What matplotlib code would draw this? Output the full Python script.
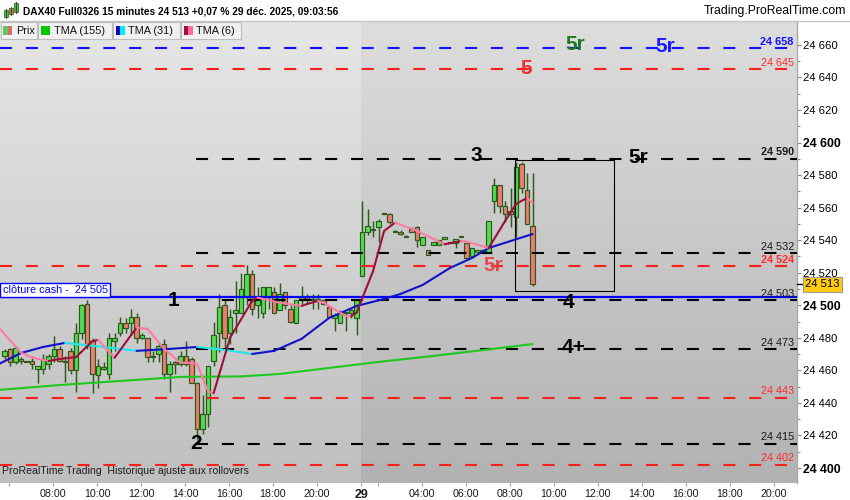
import numpy as np
import pandas as pd
import matplotlib
matplotlib.use("Agg")
import matplotlib.pyplot as plt
import matplotlib.colors as mcolors
import matplotlib.transforms as mtransforms
from matplotlib.patches import Rectangle
from matplotlib.collections import LineCollection

plt.rcParams['font.family'] = ['Liberation Sans', 'DejaVu Sans']

# ==========================================
# 1. DATA
# ==========================================
# 15 minute bars: previous session 05:45 -> 21:45, then 29 déc. 01:15 -> 09:00
day1_times = pd.date_range("2025-12-23 05:45", "2025-12-23 21:45", freq="15min")
day2_times = pd.date_range("2025-12-29 01:15", "2025-12-29 09:00", freq="15min")

d1_open = [24469, 24473, 24465, 24467, 24465, 24466, 24461, 24461, 24464, 24469,
           24473, 24466, 24472, 24460, 24483, 24501, 24478, 24457, 24461, 24458,
           24478, 24483, 24489, 24489, 24493, 24480, 24480, 24468, 24470, 24476,
           24458, 24465, 24464, 24469, 24467, 24452, 24424, 24433, 24466, 24483,
           24500, 24483, 24495, 24495, 24505, 24519, 24500, 24495, 24505, 24508,
           24497, 24508, 24498, 24489, 24503, 24505, 24503, 24503, 24503, 24499,
           24492, 24489, 24495, 24495, 24492]
d1_high = [24473, 24474, 24475, 24468, 24466, 24469, 24463, 24470, 24470, 24481,
           24475, 24469, 24474, 24489, 24501, 24503, 24480, 24467, 24465, 24483,
           24483, 24493, 24492, 24498, 24495, 24483, 24480, 24472, 24476, 24479,
           24466, 24466, 24472, 24478, 24468, 24453, 24445, 24463, 24490, 24507,
           24503, 24498, 24515, 24520, 24525, 24522, 24511, 24511, 24511, 24511,
           24514, 24508, 24500, 24503, 24512, 24507, 24507, 24507, 24504, 24499,
           24495, 24497, 24496, 24498, 24503]
d1_low = [24467, 24463, 24464, 24464, 24465, 24461, 24452, 24458, 24461, 24465,
          24465, 24453, 24458, 24447, 24479, 24473, 24446, 24449, 24460, 24455,
          24472, 24481, 24483, 24482, 24477, 24479, 24465, 24465, 24465, 24455,
          24447, 24458, 24463, 24463, 24452, 24418, 24421, 24425, 24463, 24471,
          24473, 24476, 24483, 24495, 24500, 24494, 24492, 24492, 24498, 24495,
          24497, 24498, 24489, 24489, 24501, 24501, 24498, 24498, 24500, 24493,
          24484, 24489, 24484, 24492, 24482]
d1_close = [24472, 24465, 24474, 24466, 24466, 24464, 24463, 24467, 24469, 24473,
            24466, 24465, 24460, 24483, 24500, 24475, 24458, 24463, 24462, 24480,
            24480, 24489, 24486, 24493, 24480, 24482, 24468, 24469, 24475, 24458,
            24464, 24464, 24469, 24464, 24452, 24424, 24433, 24463, 24482, 24499,
            24480, 24493, 24497, 24510, 24519, 24498, 24504, 24511, 24511, 24495,
            24507, 24500, 24490, 24503, 24505, 24503, 24503, 24504, 24501, 24493,
            24494, 24495, 24496, 24497, 24503]

d2_open = [24518, 24545, 24547, 24548, 24556, 24556, 24545, 24545, 24542, 24547,
           24548, 24537, 24534, 24537, 24537, 24541, 24538, 24538, 24542, 24538,
           24530, 24533, 24534, 24532, 24564, 24574, 24561, 24558, 24554, 24587,
           24571, 24549]
d2_high = [24564, 24559, 24552, 24553, 24557, 24557, 24546, 24546, 24543, 24548,
           24549, 24542, 24534, 24539, 24540, 24541, 24538, 24541, 24542, 24538,
           24535, 24533, 24534, 24552, 24578, 24574, 24564, 24572, 24588, 24588,
           24581, 24581]
d2_low = [24518, 24543, 24542, 24539, 24556, 24550, 24545, 24543, 24542, 24545,
          24536, 24537, 24531, 24537, 24537, 24541, 24538, 24535, 24542, 24529,
          24530, 24533, 24533, 24532, 24557, 24557, 24551, 24548, 24542, 24569,
          24550, 24512]
d2_close = [24545, 24549, 24546, 24552, 24557, 24551, 24545, 24544, 24542, 24545,
            24540, 24542, 24531, 24539, 24540, 24541, 24538, 24541, 24542, 24529,
            24535, 24533, 24533, 24552, 24574, 24561, 24556, 24556, 24585, 24572,
            24550, 24513]

# triangular moving averages, read at a few bars ("day hh:mm")
tma155_t = ["23 05:30", "23 08:15", "23 11:00", "23 13:45", "23 16:30", "23 18:15",
            "23 20:30", "29 02:00", "29 04:30", "29 06:45", "29 09:00"]
tma155_v = [24448, 24451, 24453.5, 24456, 24456.3, 24457.8, 24461.5, 24465.2,
            24468.9, 24472.5, 24476.2]

tma31_t = ["23 05:30", "23 06:30", "23 07:30", "23 08:30", "23 10:15", "23 11:45",
           "23 13:15", "23 14:30", "23 15:45", "23 17:00", "23 18:00", "23 19:15",
           "23 20:30", "23 21:45", "29 02:15", "29 03:00", "29 04:00", "29 05:15",
           "29 06:15", "29 07:00", "29 08:00", "29 09:00"]
tma31_v = [24464, 24470.7, 24474.4, 24476.9, 24474.4, 24472, 24473.2, 24474.4,
           24472.6, 24470.1, 24472, 24479.4, 24492.2, 24499.6, 24503.9, 24507,
           24512.5, 24523, 24529.1, 24535.2, 24539.5, 24543.8]

tma6_t = ["23 05:30", "23 06:30", "23 07:00", "23 07:45", "23 08:15", "23 09:00",
          "23 09:45", "23 10:00", "23 10:45", "23 11:45", "23 12:15", "23 13:00",
          "23 13:45", "23 14:15", "23 14:30", "23 14:45", "23 15:00", "23 15:15",
          "23 16:00", "23 17:00", "23 17:15", "23 18:15", "23 19:15", "23 19:30",
          "23 20:00", "23 20:15", "23 21:15", "23 21:30", "23 21:45", "29 01:45",
          "29 02:15", "29 02:45", "29 03:45", "29 05:00", "29 05:45", "29 06:00",
          "29 07:00", "29 07:45", "29 08:15", "29 08:45", "29 09:00"]
tma6_v = [24486, 24470.9, 24467.8, 24465.8, 24467.0, 24468.2, 24478.1, 24478.7,
          24467.8, 24486.3, 24485.5, 24473.2, 24464.7, 24464.5, 24463.9, 24455.5,
          24447, 24446, 24480.1, 24502.7, 24504.7, 24501.6, 24499.6, 24500.8,
          24502.7, 24501.6, 24493.4, 24493.3, 24495.5, 24521.1, 24545.7, 24550.8,
          24545.7, 24537.5, 24539.5, 24539.2, 24535.2, 24551.8, 24562.3, 24566.0,
          24563.1]

# horizontal levels drawn on the chart
level_values = [24658, 24645, 24590, 24532, 24524, 24503, 24473, 24443, 24415, 24402]
level_kinds = ["blue", "red", "black", "black", "red", "black", "black", "red", "black", "red"]
level_bold = [True, False, True, False, True, False, False, False, False, False]
cash_close = 24505
black_levels_from = "23 14:30"

# big level names
mark_text = ["5r", "5r", "5", "3", "5r", "5r", "1", "4", "4+", "2"]
mark_time = ["29 11:00", "29 15:05", "29 08:45", "29 06:30", "29 13:50", "29 07:15",
             "23 13:30", "29 10:40", "29 10:55", "23 14:30"]
mark_price = [24660, 24659, 24645.5, 24592, 24591, 24524.5, 24503, 24502, 24474, 24415]
mark_color = ["#1f7a1f", "#1a1aff", "#e83232", "black", "black", "#e54848",
              "black", "black", "black", "black"]

# zone box around the last bars
box_t = ["29 08:15", "29 12:45"]
box_p = [24509, 24589]

title = "DAX40 Full0326 15 minutes 24 513 +0,07 % 29 déc. 2025, 09:03:56"
last_price = d2_close[-1]

# ==========================================
# 2. HELPERS
# ==========================================
GREEN, RED, EDGE = "#52dc52", "#ee7c72", "#2b5a1a"
LEVEL_COL = {"blue": "#1212ff", "red": "#ff1e1e", "black": "black"}
LABEL_COL = {"blue": "#1212ff", "red": "#ff2a2a", "black": "#1a1a1a"}
BAR_SHIFT = 0.05   # bars are drawn a pixel after their start time


def stamp(s):
    return pd.Timestamp("2025-12-" + s)


def tpos(ts):
    ts = pd.Timestamp(ts)
    hours = ts.hour + ts.minute / 60
    # closed hours are skipped: 29 déc. 01:15 follows 22:00 of the previous session
    return hours + 20.75 if ts.day == 29 else hours


def draw_candles(ax, times, o, h, l, c):
    xs = [tpos(t) + BAR_SHIFT for t in times]
    wicks = [[(x, lo), (x, hi)] for x, lo, hi in zip(xs, l, h)]
    ax.add_collection(LineCollection(wicks, colors=EDGE, linewidths=1.05, zorder=3))
    bw = 0.2
    for x, op, cl in zip(xs, o, c):
        up = cl >= op
        bottom = min(op, cl)
        height = max(abs(cl - op), 0.7)
        ax.add_patch(Rectangle((x - bw / 2, bottom), bw, height,
                               facecolor=GREEN if up else RED, edgecolor=EDGE,
                               lw=0.85, zorder=4))


def two_colour_line(ax, times, values, up_col, down_col, lw):
    xs = [tpos(stamp(t)) + BAR_SHIFT for t in times]
    pts = np.column_stack([xs, values])
    segs = np.stack([pts[:-1], pts[1:]], axis=1)
    cols = [up_col if b > a else down_col for a, b in zip(values[:-1], values[1:])]
    ax.add_collection(LineCollection(segs, colors=cols, linewidths=lw, zorder=6,
                                     capstyle='round', joinstyle='round'))


def gradient(ax, x0, x1, y0, y1, top, bottom):
    g = np.linspace(0, 1, 256)[:, None, None]
    c_top = np.array(mcolors.to_rgb(top))
    c_bot = np.array(mcolors.to_rgb(bottom))
    img = c_top + (c_bot - c_top) * g
    ax.imshow(img, extent=[x0, x1, y0, y1], aspect='auto', origin='upper',
              zorder=0, interpolation='bilinear')


def fmt(v):
    return f"{v:,.0f}".replace(",", " ")


# ==========================================
# 3. FIGURE
# ==========================================
fig = plt.figure(figsize=(8.5, 5.0), dpi=100)
fig.patch.set_facecolor("white")
ax = fig.add_axes([0, 17 / 500, 797 / 850, 461 / 500])

x_left, x_right = 5.591, 41.818
y_low, y_high = 24390.8, 24674.1
day_split = tpos(day2_times[0])

gradient(ax, x_left, day_split, y_low, y_high, "#e6e6e6", "#bfbfbf")
gradient(ax, day_split, x_right, y_low, y_high, "#dddddd", "#b2b2b2")

blend = mtransforms.blended_transform_factory(ax.transAxes, ax.transData)

# levels
x_black = tpos(stamp(black_levels_from))
for v, kind, bold in zip(level_values, level_kinds, level_bold):
    x0 = x_black if kind == "black" else x_left
    ax.plot([x0, x_right], [v, v], color=LEVEL_COL[kind], lw=1.5,
            linestyle=(0, (5.8, 6.6)), zorder=5, solid_capstyle='butt')
    ax.annotate(fmt(v), xy=(0.996, v), xycoords=blend, xytext=(0, 2.6),
                textcoords='offset points', ha='right', va='baseline',
                fontsize=7.8, color=LABEL_COL[kind],
                fontweight='bold' if bold else 'normal', zorder=7)

ax.axhline(cash_close, color="#0000ff", lw=1.6, zorder=5)
ax.annotate(f"clôture cash -  {fmt(cash_close)}", xy=(0, cash_close), xycoords=blend,
            xytext=(2.0, 5.2), textcoords='offset points', ha='left', va='center',
            fontsize=7.8, color="#0000ff", zorder=8,
            bbox=dict(boxstyle='square,pad=0.22', facecolor='white',
                      edgecolor='#0000ff', lw=1.0))

# candles
draw_candles(ax, day1_times, d1_open, d1_high, d1_low, d1_close)
draw_candles(ax, day2_times, d2_open, d2_high, d2_low, d2_close)

# moving averages
two_colour_line(ax, tma155_t, tma155_v, "#1ec81e", "#1ec81e", 1.5)
two_colour_line(ax, tma31_t, tma31_v, "#1212c8", "#22e4ee", 1.5)
two_colour_line(ax, tma6_t, tma6_v, "#9c0f3a", "#ff7aa2", 1.5)

# zone rectangle
bx0, bx1 = tpos(stamp(box_t[0])), tpos(stamp(box_t[1]))
ax.add_patch(Rectangle((bx0, box_p[0]), bx1 - bx0, box_p[1] - box_p[0],
                       fill=False, edgecolor='black', lw=0.8, zorder=5))

# level names
for txt, t, p, col in zip(mark_text, mark_time, mark_price, mark_color):
    ax.text(tpos(stamp(t)), p, txt, ha='center', va='center', fontsize=15,
            fontweight='bold', color=col, zorder=8)

ax.text(0.003, 0.016, "ProRealTime Trading  Historique ajusté aux rollovers",
        transform=ax.transAxes, ha='left', va='bottom', fontsize=7.6,
        color='#1e1e1e', zorder=8)

ax.set_xlim(x_left, x_right)
ax.set_ylim(y_low, y_high)

# right price axis
for side in ("top", "left", "bottom"):
    ax.spines[side].set_visible(False)
ax.spines["right"].set_color("#aaaaaa")
ax.spines["right"].set_linewidth(1.0)
yt = np.arange(24400, 24661, 20)
ax.set_yticks(yt)
ax.set_yticklabels([fmt(v) for v in yt])
ax.set_yticks(np.arange(24400, 24661, 10), minor=True)
ax.yaxis.tick_right()
ax.tick_params(axis='y', which='both', direction='out', color='#888888',
               width=0.8, pad=1.6, labelsize=8.1, labelcolor='black')
ax.tick_params(axis='y', which='major', length=3.0)
ax.tick_params(axis='y', which='minor', length=2.2)
for lab, v in zip(ax.get_yticklabels(), yt):
    if v % 100 == 0:
        lab.set_fontweight('bold')
        lab.set_fontsize(8.8)

# current price tag
ax.plot([1.0, 1.007], [last_price, last_price], transform=blend, color='black',
        lw=1.0, clip_on=False, zorder=9)
ax.annotate(fmt(last_price), xy=(1.0, last_price), xycoords=blend, xytext=(6.0, 0),
            textcoords='offset points', ha='left', va='center', fontsize=8.1,
            color='black', annotation_clip=False, zorder=9,
            bbox=dict(boxstyle='square,pad=0.22', facecolor='#ffcc11',
                      edgecolor='#9a9a9a', lw=0.8))

# time axis
tick_times = ([stamp(f"23 {h:02d}:00") for h in range(6, 21, 2)] + [day2_times[0]]
              + [stamp(f"29 {h:02d}:00") for h in range(2, 21, 2)])
tick_labels = ([""] + [f"{h:02d}:00" for h in range(8, 21, 2)] + ["29"]
               + [""] + [f"{h:02d}:00" for h in range(4, 21, 2)])
ax.set_xticks([tpos(t) for t in tick_times])
ax.set_xticklabels(tick_labels)
ax.tick_params(axis='x', direction='out', length=2.5, width=0.8, color='#999999',
               pad=1.5, labelsize=7.7, labelcolor='#1a1a1a')
for lab in ax.get_xticklabels():
    if lab.get_text() == "29":
        lab.set_fontweight('bold')
        lab.set_fontsize(9)

# ==========================================
# 4. HEADER + LEGEND (pixel overlay)
# ==========================================
over = fig.add_axes([0, 0, 1, 1], zorder=10)
over.set_xlim(0, 850)
over.set_ylim(500, 0)
over.axis('off')
over.add_patch(Rectangle((0, 0), 850, 20.5, facecolor='white', edgecolor='none'))
over.plot([0, 850], [20.5, 20.5], color='#c4c4c4', lw=1.0)

# little candle icon
for cx, top, bot, col in [(6, 10, 17, "#4cb84c"), (11, 8, 14, "#d86a60"), (16, 3, 12, "#4cb84c")]:
    over.plot([cx, cx], [top - 1, bot + 1], color='#2b5a1a', lw=0.7)
    over.add_patch(Rectangle((cx - 1.6, top), 3.2, bot - top, facecolor=col,
                             edgecolor='#2b5a1a', lw=0.5))

over.text(23, 11, title, ha='left', va='center', fontsize=7.3, fontweight='bold',
          color='black')
over.text(846, 11, "Trading.ProRealTime.com", ha='right', va='center', fontsize=8.8,
          color='black')

legend_names = ["Prix", "TMA (155)", "TMA (31)", "TMA (6)"]
legend_cols = [("#5cc85c", "#e06a6a"), ("#00c800", "#00c800"),
               ("#0000c8", "#00f0ff"), ("#a0103a", "#ff6f9a")]
legend_edges = [0, 38, 112.5, 180.5, 242]
for i, (name, (c1, c2)) in enumerate(zip(legend_names, legend_cols)):
    x0, x1 = legend_edges[i], legend_edges[i + 1]
    over.add_patch(Rectangle((x0 + 0.5, 22), x1 - x0 - 1, 17, facecolor='#f0f0f0',
                             edgecolor='#bdbdbd', lw=0.8))
    over.add_patch(Rectangle((x0 + 3.5, 26), 4.5, 9, facecolor=c1, edgecolor='none'))
    over.add_patch(Rectangle((x0 + 8, 26), 4.5, 9, facecolor=c2, edgecolor='none'))
    over.text(x0 + 16, 31, name, ha='left', va='center', fontsize=7.8, color='#111111')

fig.savefig("out.png", dpi=100)
